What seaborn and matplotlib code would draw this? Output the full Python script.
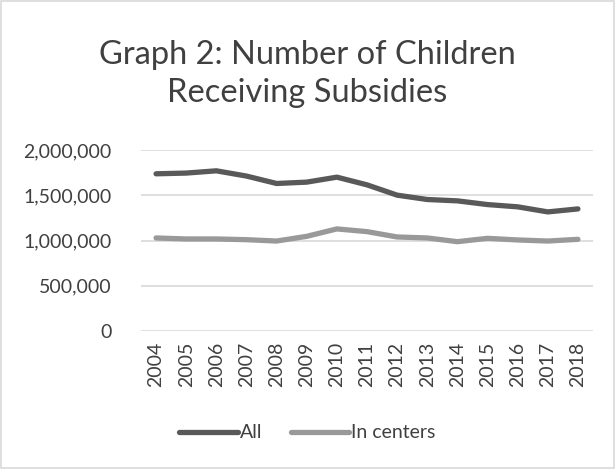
import matplotlib
matplotlib.use("Agg")
import matplotlib.pyplot as plt
import seaborn as sns
import pandas as pd
from matplotlib.ticker import FuncFormatter
from matplotlib.lines import Line2D

years = [2004, 2005, 2006, 2007, 2008, 2009, 2010, 2011, 2012, 2013, 2014, 2015, 2016, 2017, 2018]
all_children = [1737000, 1745000, 1770000, 1712000, 1630000, 1645000, 1700000, 1615000, 1501000,
                1453000, 1438000, 1397000, 1372000, 1316000, 1349000]
in_centers = [1028000, 1017000, 1017000, 1009000, 994000, 1046000, 1128000, 1098000, 1039000,
              1028000, 987000, 1024000, 1006000, 994000, 1013000]
series_names = ["All", "In centers"]

df = pd.DataFrame({
    "Year": [str(y) for y in years] * 2,
    "Value": all_children + in_centers,
    "Series": [series_names[0]] * len(years) + [series_names[1]] * len(years),
})

sns.set_style("white")
plt.rcParams["font.family"] = ["Lato", "DejaVu Sans"]
text_color = "#595959"
label_color = "#404040"

fig = plt.figure(figsize=(6.15, 4.69), dpi=100)
ax = fig.add_axes([141 / 615, 1 - 331 / 469, (593 - 141) / 615, (331 - 150) / 469])

sns.lineplot(data=df, x="Year", y="Value", hue="Series", palette=["#595959", "#999999"],
             linewidth=3.8, ax=ax, legend=False, sort=False)

ax.set_ylim(0, 2000000)
ax.set_yticks([0, 500000, 1000000, 1500000, 2000000])
ax.yaxis.set_major_formatter(FuncFormatter(lambda v, p: f"{int(v):,}"))
ax.set_xlim(-0.5, len(years) - 0.5)
ax.grid(axis="y", color="#d9d9d9", linewidth=1.2)
ax.grid(axis="x", visible=False)
for s in ax.spines.values():
    s.set_visible(False)
ax.set_xlabel("")
ax.set_ylabel("")
ax.tick_params(axis="y", length=0, pad=21, labelsize=14, labelcolor=label_color)
ax.tick_params(axis="x", length=0, pad=8, labelsize=14, labelcolor=label_color, rotation=90)

fig.text(0.5, 1 - 74 / 469, "Graph 2: Number of Children\nReceiving Subsidies", ha="center", va="center",
         fontsize=23.5, color=label_color, linespacing=1.35)

handles = [Line2D([0], [0], color="#595959", lw=3.8), Line2D([0], [0], color="#999999", lw=3.8)]
fig.legend(handles, series_names, loc="center", bbox_to_anchor=(0.5, 1 - 433 / 469), ncol=2,
           frameon=False, fontsize=14, labelcolor=label_color, handlelength=3.0, handletextpad=0.1,
           columnspacing=1.5)

fig.patches.append(plt.Rectangle((0.002, 0.002), 0.996, 0.996, transform=fig.transFigure,
                                 fill=False, edgecolor="#d9d9d9", linewidth=1.2))

fig.savefig("out.png", dpi=100)
